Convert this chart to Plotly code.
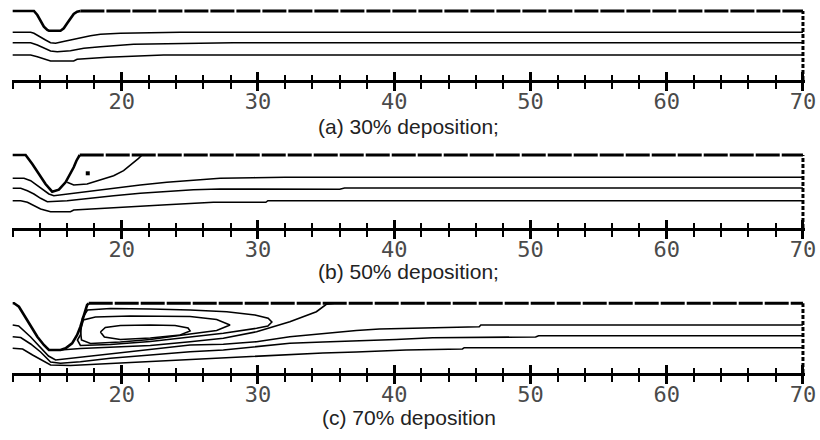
import plotly.graph_objects as go

# ---------------- data (x: position along channel, y: height above axis line) ----------------
X_START, X_END = 12, 70
CAPTIONS = ["(a) 30% deposition;", "(b) 50% deposition;", "(c) 70% deposition"]

# Panel (a) 30 % deposition
top_a = 6.9
wall_a_x = [12, 13.56, 13.81, 14.05, 14.29, 14.54, 14.66, 15.51, 15.75, 16.0, 16.24, 16.48, 16.73, 16.97]
wall_a_y = [6.9, 6.9, 6.5, 5.83, 5.33, 5.0, 4.93, 4.93, 5.17, 5.67, 6.17, 6.6, 6.83, 6.9]
a1_x = [12, 13.32, 13.56, 14.05, 14.41, 14.78, 15.15, 15.64, 16.24, 16.97, 17.71, 18.44, 19.9, 24.29, 70]
a1_y = [4.77, 4.77, 4.67, 4.33, 4.0, 3.73, 3.67, 3.83, 4.0, 4.23, 4.43, 4.57, 4.67, 4.77, 4.77]
a2_x = [12, 13.32, 13.81, 14.29, 14.78, 15.27, 16.24, 17.22, 18.44, 20.87, 28.19, 70]
a2_y = [3.73, 3.73, 3.5, 3.17, 2.9, 2.83, 2.93, 3.17, 3.33, 3.57, 3.73, 3.73]
a3_x = [12, 13.32, 13.81, 14.29, 14.78, 16.48, 16.73, 18.93, 23.07, 70]
a3_y = [2.5, 2.5, 2.33, 2.1, 1.9, 1.9, 2.07, 2.27, 2.5, 2.5]

# Panel (b) 50 % deposition
top_b = 7.3
wall_b_x = [12, 12.95, 13.44, 13.92, 14.41, 14.9, 15.39, 15.88, 16.24, 16.48, 16.68, 16.92]
wall_b_y = [7.3, 7.3, 6.4, 5.4, 4.4, 3.63, 3.83, 4.57, 5.4, 6.07, 6.73, 7.3]
sep_b_x = [16.0, 16.48, 17.46, 18.44, 19.41, 20.14, 20.76, 21.24, 21.49]
sep_b_y = [4.57, 4.3, 4.4, 4.83, 5.23, 5.73, 6.4, 6.97, 7.3]
dot_b_x = [17.51]
dot_b_y = [5.47]
b1_x = [12, 12.83, 13.32, 13.81, 14.29, 14.66, 15.02, 16.0, 17.46, 19.41, 21.36, 23.31, 25.26, 27.22, 29.65, 31.97, 70]
b1_y = [4.97, 4.97, 4.73, 4.23, 3.73, 3.4, 3.23, 3.4, 3.63, 3.97, 4.3, 4.57, 4.8, 4.97, 5.03, 5.07, 5.07]
b2_x = [12, 12.59, 13.08, 13.56, 14.05, 14.54, 16.0, 17.46, 19.41, 21.36, 23.31, 25.26, 27.22, 36.0, 36.36, 70]
b2_y = [3.97, 3.97, 3.73, 3.4, 2.97, 2.63, 2.73, 2.97, 3.23, 3.47, 3.67, 3.83, 3.9, 3.87, 4.0, 4.0]
b3_x = [12, 12.59, 13.08, 13.56, 14.05, 14.78, 16.24, 16.48, 18.44, 20.87, 23.31, 26.73, 30.58, 30.73, 70]
b3_y = [2.73, 2.73, 2.57, 2.23, 1.9, 1.63, 1.63, 1.8, 1.97, 2.17, 2.33, 2.57, 2.57, 2.73, 2.73]

# Panel (c) 70 % deposition
top_c = 6.97
wall_c_x = [12, 12.1, 12.46, 12.83, 13.32, 13.81, 14.29, 14.66, 15.51, 15.88, 16.36, 16.73, 16.97, 17.22, 17.46, 17.58]
wall_c_y = [6.97, 6.97, 6.63, 5.8, 4.63, 3.63, 2.8, 2.3, 2.3, 2.47, 2.97, 3.8, 4.63, 5.8, 6.8, 6.97]
sep_c_x = [14.78, 15.51, 16.97, 19.17, 22.10, 25.02, 27.46, 29.90, 32.34, 34.29, 35.02, 35.63]
sep_c_y = [2.30, 2.30, 2.45, 2.55, 2.75, 3.13, 3.47, 4.13, 5.13, 6.13, 6.87, 6.97]
loop1_x = [16.97, 17.12, 17.49, 19.17, 22.10, 25.02, 27.71, 29.78, 30.75, 31.02, 30.73, 29.90, 27.46, 25.02, 22.10, 19.17, 16.97, 16.75, 16.97]
loop1_y = [3.8, 5.5, 6.3, 6.45, 6.4, 6.3, 6.13, 5.8, 5.47, 5.1, 4.7, 4.47, 3.97, 3.6, 3.15, 2.85, 2.75, 3.3, 3.8]
loop2_x = [16.97, 17.19, 18.07, 20.63, 25.02, 26.97, 27.95, 26.97, 25.02, 22.10, 19.90, 17.71, 17.05, 16.97]
loop2_y = [4.3, 5.3, 5.6, 5.7, 5.65, 5.35, 4.8, 4.25, 3.9, 3.35, 3.1, 2.95, 3.3, 4.3]
loop3_x = [18.44, 18.80, 19.90, 22.10, 23.92, 24.87, 25.02, 24.29, 22.10, 19.90, 18.73, 18.44]
loop3_y = [4.1, 4.55, 4.75, 4.8, 4.75, 4.5, 4.2, 3.8, 3.5, 3.35, 3.6, 4.1]
c1_x = [12, 12.44, 13.32, 14.05, 14.63, 15.15, 16.24, 18.44, 20.63, 22.83, 25.02, 27.46, 29.90, 32.34, 34.77, 37.22, 38.92, 41.36, 46.24, 46.36, 70]
c1_y = [4.8, 4.7, 3.6, 2.6, 1.7, 1.3, 1.47, 1.8, 2.13, 2.47, 2.8, 2.87, 3.13, 3.63, 3.97, 4.25, 4.4, 4.5, 4.63, 4.8, 4.8]
c2_x = [12, 12.59, 13.32, 14.05, 14.78, 15.51, 16.97, 19.17, 22.10, 25.02, 27.46, 29.90, 32.34, 34.77, 37.22, 38.92, 40.14, 42.82, 50.38, 50.6, 70]
c2_y = [3.63, 3.55, 2.9, 2.1, 1.1, 0.97, 1.13, 1.47, 1.8, 2.13, 2.3, 2.63, 2.97, 3.1, 3.2, 3.3, 3.35, 3.53, 3.6, 3.73, 3.73]
c3_x = [12, 12.73, 13.46, 14.19, 14.78, 16.24, 18.44, 22.10, 25.02, 27.46, 29.90, 32.34, 34.77, 37.22, 38.92, 40.87, 45.01, 45.14, 70]
c3_y = [2.47, 2.4, 1.8, 1.2, 0.8, 0.75, 0.9, 1.1, 1.3, 1.45, 1.65, 1.85, 2.0, 2.1, 2.2, 2.3, 2.4, 2.53, 2.53]

panels = [
    dict(top=top_a, wall=(wall_a_x, wall_a_y),
         lines=[(a1_x, a1_y), (a2_x, a2_y), (a3_x, a3_y)], extra=[], dots=None,
         axis_px=80, caption_px=127),
    dict(top=top_b, wall=(wall_b_x, wall_b_y),
         lines=[(b1_x, b1_y), (b2_x, b2_y), (b3_x, b3_y)], extra=[(sep_b_x, sep_b_y)],
         dots=(dot_b_x, dot_b_y), axis_px=228, caption_px=271),
    dict(top=top_c, wall=(wall_c_x, wall_c_y),
         lines=[(c1_x, c1_y), (c2_x, c2_y), (c3_x, c3_y),
                (loop1_x, loop1_y), (loop2_x, loop2_y), (loop3_x, loop3_y)],
         extra=[(sep_c_x, sep_c_y)], dots=None, axis_px=373, caption_px=417),
]

# ---------------- figure ----------------
W, H = 820, 440
Y_RANGE = 7.6          # data units shown above the axis line
PX_PER_Y = 10          # vertical pixels per data unit
fig = go.Figure()
BLACK = "#000000"

for i, p in enumerate(panels, start=1):
    xa, ya = f"x{i}", f"y{i}"
    for lx, ly in p["lines"] + p["extra"]:
        fig.add_trace(go.Scatter(x=lx, y=ly, mode="lines", xaxis=xa, yaxis=ya,
                                 line=dict(color=BLACK, width=1.6), hoverinfo="skip"))
    wx, wy = p["wall"]
    fig.add_trace(go.Scatter(x=wx, y=wy, mode="lines", xaxis=xa, yaxis=ya,
                             line=dict(color=BLACK, width=2.6), hoverinfo="skip"))
    fig.add_trace(go.Scatter(x=[wx[-1], X_END], y=[p["top"], p["top"]], mode="lines",
                             xaxis=xa, yaxis=ya, hoverinfo="skip",
                             line=dict(color=BLACK, width=3, dash="24px,2px")))
    fig.add_trace(go.Scatter(x=[X_END, X_END], y=[0, p["top"]], mode="lines",
                             xaxis=xa, yaxis=ya, hoverinfo="skip",
                             line=dict(color=BLACK, width=3, dash="4px,2px")))
    if p["dots"]:
        fig.add_trace(go.Scatter(x=p["dots"][0], y=p["dots"][1], mode="markers",
                                 xaxis=xa, yaxis=ya, hoverinfo="skip",
                                 marker=dict(symbol="square", size=4, color=BLACK)))
    fig.add_trace(go.Scatter(x=[], y=[], mode="lines", xaxis=f"x{i+3}", yaxis=ya,
                             hoverinfo="skip"))

    bottom = 1 - p["axis_px"] / H
    top = 1 - (p["axis_px"] - Y_RANGE * PX_PER_Y) / H
    common = dict(range=[X_START - 0.05, X_END + 0.15], showgrid=False, zeroline=False,
                  tick0=0, dtick=10, tickwidth=3, tickcolor=BLACK,
                  minor=dict(tick0=0, dtick=2, ticklen=6, tickwidth=1.5, tickcolor=BLACK,
                             ticks="outside"))
    fig.update_layout(**{
        f"xaxis{i}": dict(common, anchor=ya, showline=True, linewidth=2.6, linecolor=BLACK,
                          ticks="outside", ticklen=8, ticklabelstandoff=-8,
                          tickfont=dict(family="DejaVu Sans Mono", size=22, color="#4a4a4a")),
        f"xaxis{i+3}": dict(common, anchor=ya, overlaying=xa, showline=False,
                            ticks="inside", ticklen=8, showticklabels=False,
                            minor=dict(common["minor"], ticks="inside", ticklen=5)),
        f"yaxis{i}": dict(domain=[bottom, top], range=[0, Y_RANGE], visible=False),
    })
    fig.add_annotation(text=CAPTIONS[i - 1], xref="paper", yref="paper",
                       x=0.5, y=1 - p["caption_px"] / H, xanchor="center", yanchor="middle",
                       showarrow=False,
                       font=dict(family="Liberation Sans, Arial", size=21, color="#222222"))

fig.update_layout(width=W, height=H, margin=dict(l=12, r=15, t=0, b=0),
                  paper_bgcolor="white", plot_bgcolor="white", showlegend=False)

fig.write_html("out.html", config={"displayModeBar": False},
               post_script="document.body.style.margin='0px';")
